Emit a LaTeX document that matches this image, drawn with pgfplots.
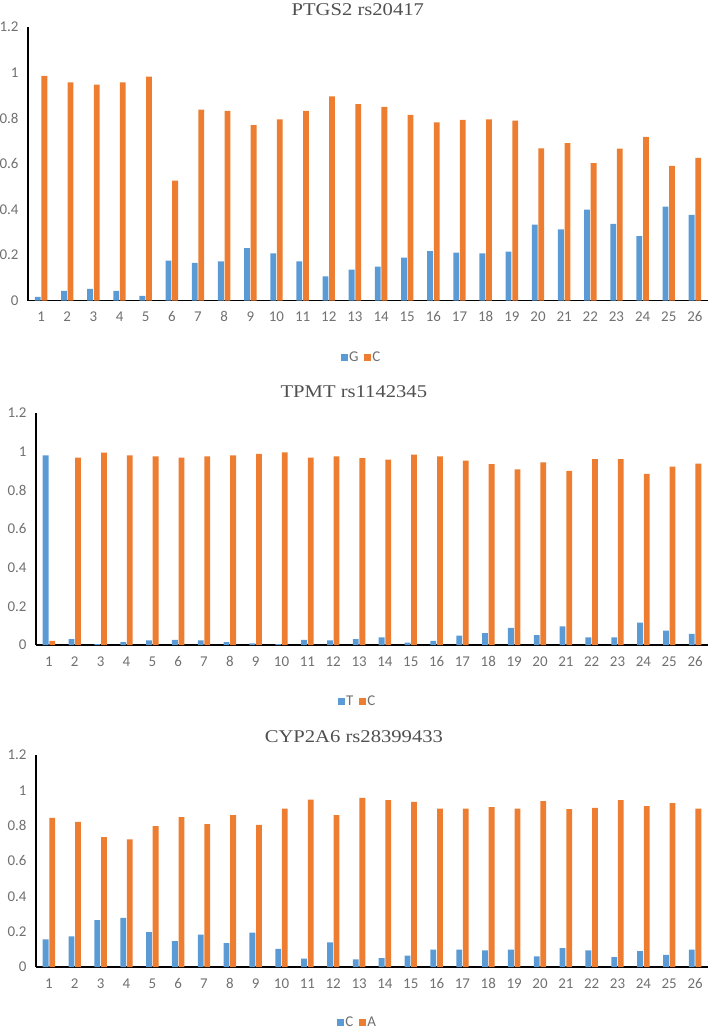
\documentclass[border=0pt]{standalone}
\usepackage{pgfplots}
\pgfplotsset{compat=1.18}
\usepackage{pgfplotstable}
\usepackage{fontspec}
\setmainfont{Carlito}
\newfontfamily\titlefont{Liberation Serif}[FakeStretch=1.15]
\definecolor{xblue}{HTML}{5B9BD5}
\definecolor{xorange}{HTML}{ED7D31}
\definecolor{tickgray}{HTML}{707070}
\definecolor{titlegray}{HTML}{505050}

\pgfplotstableread{
x a b
1 0.016 0.986
2 0.042 0.957
3 0.051 0.947
4 0.042 0.957
5 0.020 0.982
6 0.175 0.526
7 0.165 0.837
8 0.172 0.832
9 0.230 0.769
10 0.207 0.795
11 0.172 0.832
12 0.106 0.896
13 0.135 0.862
14 0.149 0.850
15 0.188 0.814
16 0.217 0.782
17 0.210 0.792
18 0.207 0.795
19 0.214 0.789
20 0.333 0.668
21 0.312 0.690
22 0.399 0.603
23 0.336 0.666
24 0.283 0.718
25 0.412 0.591
26 0.376 0.626
}\ptgs

\pgfplotstableread{
x a b
1 0.981 0.021
2 0.031 0.969
3 0.005 0.995
4 0.015 0.981
5 0.024 0.976
6 0.027 0.969
7 0.024 0.976
8 0.015 0.981
9 0.009 0.988
10 0.005 0.997
11 0.027 0.969
12 0.024 0.976
13 0.031 0.966
14 0.039 0.959
15 0.012 0.985
16 0.021 0.976
17 0.048 0.954
18 0.062 0.935
19 0.089 0.909
20 0.051 0.945
21 0.096 0.901
22 0.039 0.962
23 0.039 0.962
24 0.116 0.885
25 0.074 0.923
26 0.058 0.938
}\tpmt

\pgfplotstableread{
x a b
1 0.156 0.844
2 0.173 0.822
3 0.265 0.735
4 0.278 0.722
5 0.197 0.797
6 0.147 0.848
7 0.184 0.809
8 0.135 0.860
9 0.194 0.805
10 0.102 0.897
11 0.047 0.948
12 0.139 0.860
13 0.043 0.957
14 0.051 0.944
15 0.064 0.935
16 0.098 0.897
17 0.098 0.897
18 0.094 0.905
19 0.098 0.897
20 0.060 0.939
21 0.107 0.893
22 0.094 0.901
23 0.056 0.944
24 0.090 0.910
25 0.068 0.927
26 0.098 0.897
}\cyp

\pgfplotsset{
  myax/.style={
    scale only axis,
    ybar=0.8bp, bar width=5.8bp,
    xmin=0.5, xmax=26.5, ymin=0, ymax=1.2,
    enlargelimits=false, clip=false,
    xtick={1,...,26},
    ytick={0,0.2,0.4,0.6,0.8,1,1.2},
    yticklabels={0,0.2,0.4,0.6,0.8,1,1.2},
    /pgf/number format/assume math mode=true,
    axis lines*=left,
    axis line style={black, line width=1.2bp, -},
    major tick length=0pt,
    tick label style={font=\fontsize{15}{15}\selectfont, text=tickgray},
    xticklabel style={anchor=base, yshift=-21bp},
    yticklabel style={xshift=-6bp},
    legend style={draw=none, fill=none, anchor=center,
      font=\fontsize{15}{15}\selectfont, text=tickgray,
      legend columns=-1, inner sep=1bp,
      nodes={inner sep=1.5bp},
      /tikz/every even column/.append style={column sep=4bp}},
    legend image code/.code={\fill[##1] (0bp,-3.5bp) rectangle (7bp,3.5bp);},
    title style={anchor=center, font=\titlefont\fontsize{18}{18}\selectfont, text=titlegray},
  },
  bA/.style={fill=xblue, draw=none},
  bB/.style={fill=xorange, draw=none},
}

\begin{document}
\begin{tikzpicture}
\useasboundingbox (0,0) rectangle (709bp,-1030bp);

\begin{axis}[myax,
  at={(28bp,-300.5bp)}, anchor=south west,
  width=680bp, height=273.5bp,
  title={PTGS2 rs20417},
  title style={at={(axis description cs:0.485,1)}, yshift=11bp},
  legend style={at={(axis description cs:0.49,0)}, yshift=-56.5bp},
]
\addplot[bA] table[x=x,y=a]{\ptgs};
\addplot[bB] table[x=x,y=b]{\ptgs};
\legend{G,C}
\end{axis}

\begin{axis}[myax,
  at={(36bp,-645bp)}, anchor=south west,
  width=672bp, height=232bp,
  title={TPMT rs1142345},
  title style={at={(axis description cs:0.473,1)}, yshift=15bp},
  legend style={at={(axis description cs:0.478,0)}, yshift=-56.7bp},
]
\addplot[bA] table[x=x,y=a]{\tpmt};
\addplot[bB] table[x=x,y=b]{\tpmt};
\legend{T,C}
\end{axis}

\begin{axis}[myax,
  at={(36bp,-967bp)}, anchor=south west,
  width=672bp, height=212bp,
  title={CYP2A6 rs28399433},
  title style={at={(axis description cs:0.473,1)}, yshift=12bp},
  legend style={at={(axis description cs:0.478,0)}, yshift=-55bp},
]
\addplot[bA] table[x=x,y=a]{\cyp};
\addplot[bB] table[x=x,y=b]{\cyp};
\legend{C,A}
\end{axis}
\end{tikzpicture}
\end{document}
